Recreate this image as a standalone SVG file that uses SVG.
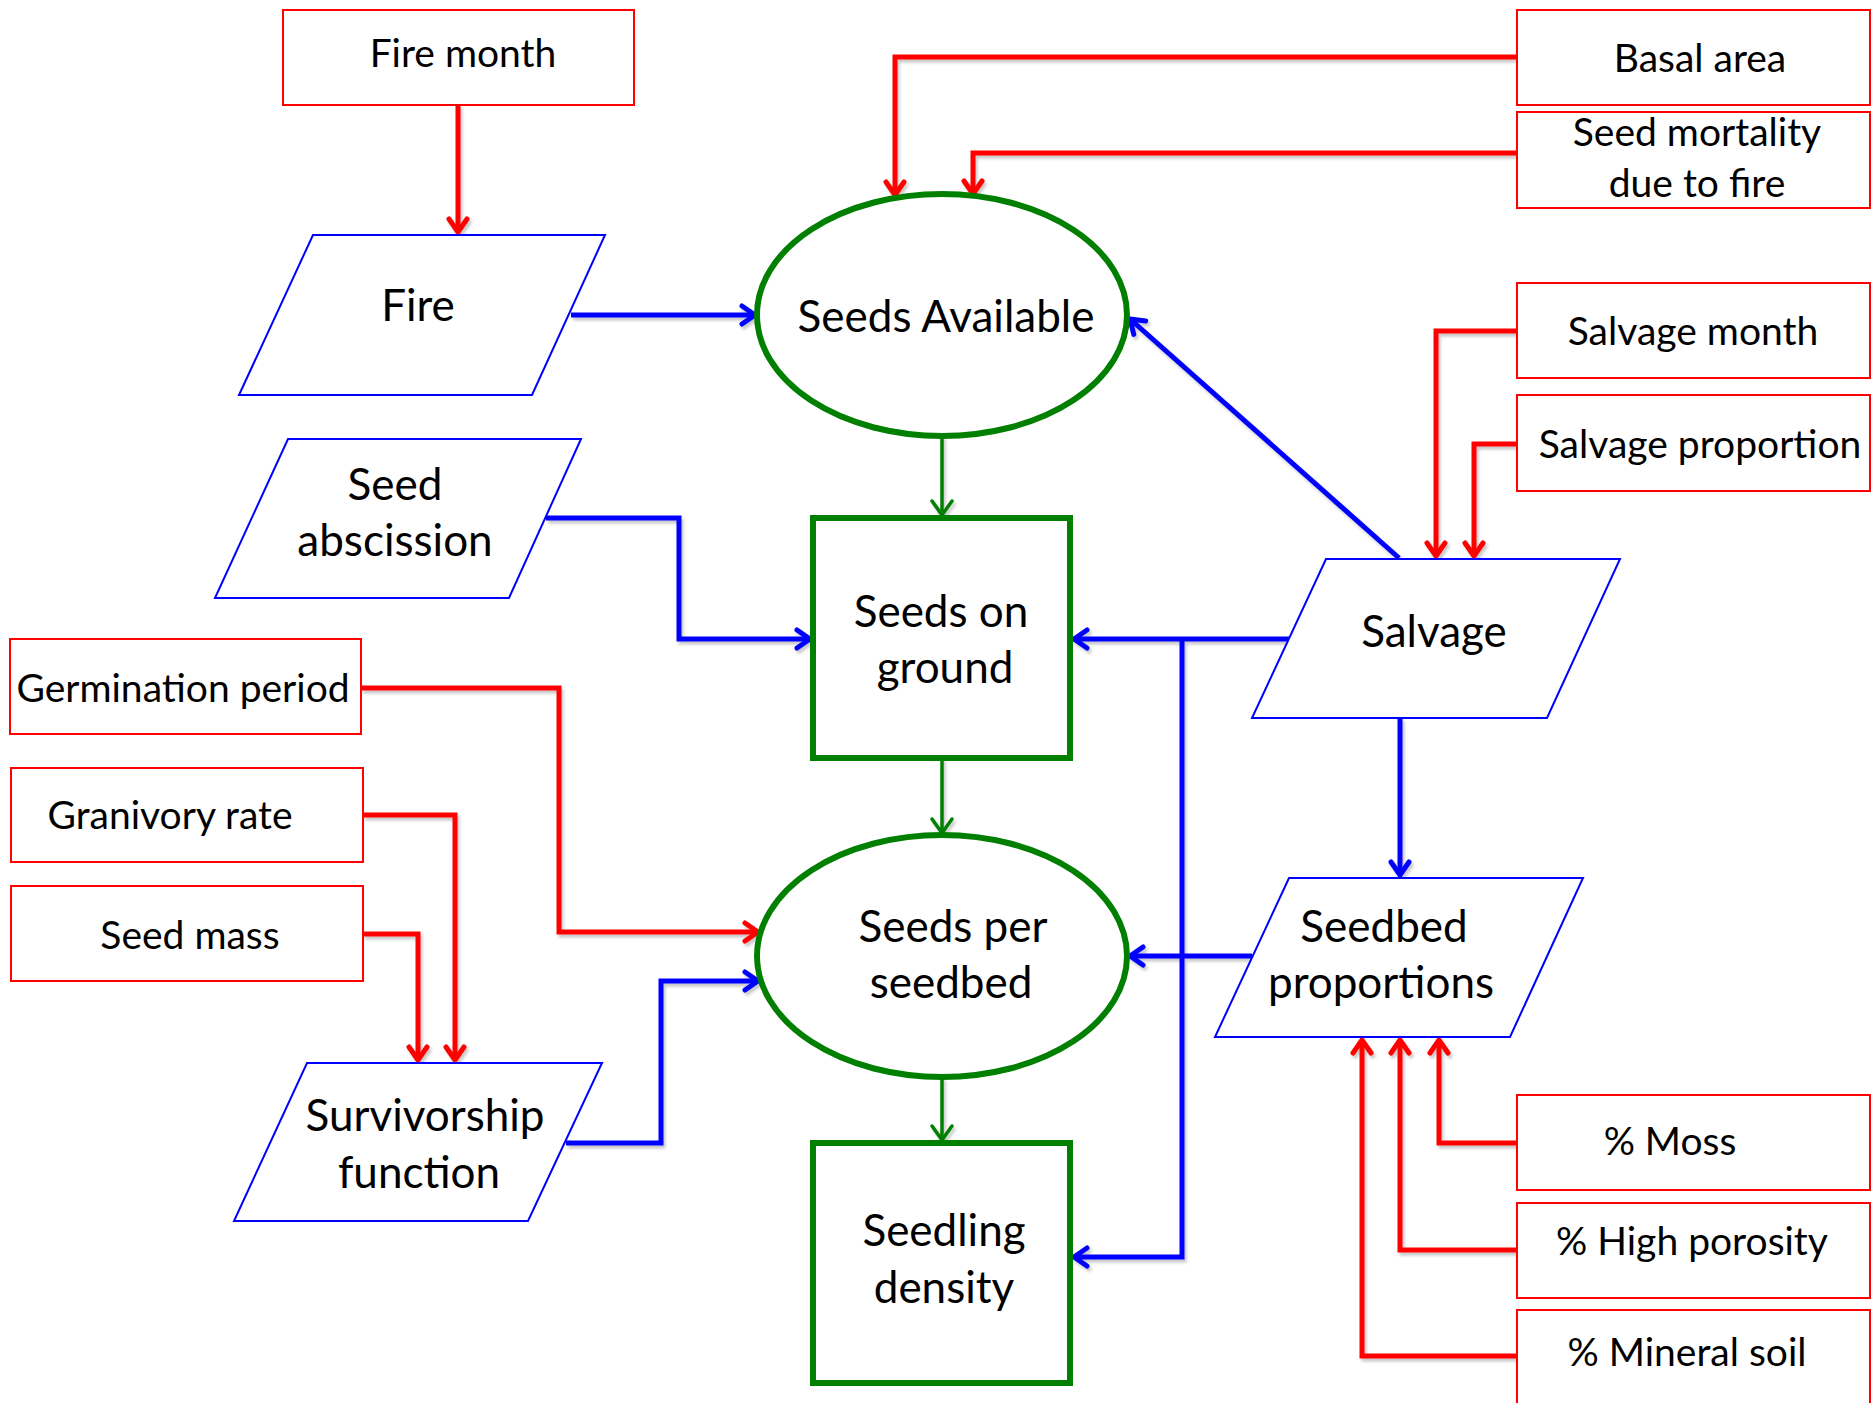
<svg xmlns="http://www.w3.org/2000/svg" width="1872" height="1403" viewBox="0 0 1872 1403">
  <style>
    text { font-family: Lato, "Noto Sans", "Liberation Sans", sans-serif; fill: #000; text-anchor: middle; }
    .t-main { font-size: 44px; }
    .t-par { font-size: 39px; }
    .param { fill: #fff; stroke: #ff0000; stroke-width: 2; }
    .input { fill: #fff; stroke: #0000ff; stroke-width: 2; }
    .state { fill: #fff; stroke: #007f00; stroke-width: 6; }
    .c-red { fill: none; stroke: #ff0000; stroke-width: 5; marker-end: url(#ah-red); }
    .c-blue { fill: none; stroke: #0000ff; stroke-width: 5; marker-end: url(#ah-blue); }
    .c-green { fill: none; stroke: #007f00; stroke-width: 3.5; marker-end: url(#ah-green); }
  </style>
  <defs>
    <filter id="shadow" x="-10%" y="-10%" width="120%" height="120%">
      <feDropShadow dx="2" dy="3" stdDeviation="1.5" flood-color="#000" flood-opacity="0.22"/>
    </filter>
    <marker id="ah-red" viewBox="-18 -14 22 28" refX="0" refY="0" markerWidth="22" markerHeight="28" markerUnits="userSpaceOnUse" orient="auto">
      <path d="M-13,-9 L0,0 L-13,9" fill="none" stroke="#ff0000" stroke-width="5" stroke-linecap="round" stroke-linejoin="round"/>
    </marker>
    <marker id="ah-blue" viewBox="-18 -14 22 28" refX="0" refY="0" markerWidth="22" markerHeight="28" markerUnits="userSpaceOnUse" orient="auto">
      <path d="M-13,-9 L0,0 L-13,9" fill="none" stroke="#0000ff" stroke-width="5" stroke-linecap="round" stroke-linejoin="round"/>
    </marker>
    <marker id="ah-green" viewBox="-18 -14 22 28" refX="0" refY="0" markerWidth="22" markerHeight="28" markerUnits="userSpaceOnUse" orient="auto">
      <path d="M-14,-10 L0,0 L-14,10" fill="none" stroke="#007f00" stroke-width="3.5" stroke-linecap="round" stroke-linejoin="round"/>
    </marker>
  </defs>

  <rect width="1872" height="1403" fill="#fff"/>

  <!-- connectors -->
  <g id="connectors" filter="url(#shadow)">
    <!-- parameters (red) -->
    <path class="c-red" d="M458,105 V232"/>
    <path class="c-red" d="M1517,57 H895 V195"/>
    <path class="c-red" d="M1517,153 H973 V194"/>
    <path class="c-red" d="M1517,331 H1436 V556"/>
    <path class="c-red" d="M1517,444 H1474 V556"/>
    <path class="c-red" d="M361,688 H559 V932 H758"/>
    <path class="c-red" d="M363,815 H455 V1060"/>
    <path class="c-red" d="M363,934 H418 V1060"/>
    <path class="c-red" d="M1517,1143 H1439 V1040"/>
    <path class="c-red" d="M1517,1250 H1400 V1040"/>
    <path class="c-red" d="M1517,1356 H1362 V1040"/>
    <!-- inputs (blue) -->
    <path class="c-blue" d="M571,315 H755"/>
    <path class="c-blue" d="M546,518 H679 V639 H810"/>
    <path class="c-blue" d="M1399,558 L1130,319"/>
    <path class="c-blue" d="M1289,639 H1074"/>
    <path class="c-blue" d="M1182,639 V1257 H1074"/>
    <path class="c-blue" d="M1400,718 V875"/>
    <path class="c-blue" d="M1252,956 H1130"/>
    <path class="c-blue" d="M566,1143 H661 V981 H758"/>
    <!-- state flow (green) -->
    <path class="c-green" d="M942,436 V515"/>
    <path class="c-green" d="M942,758 V833"/>
    <path class="c-green" d="M942,1077 V1140"/>
  </g>

  <!-- parameters -->
  <g id="fire-month">
    <rect class="param" x="283" y="10" width="351" height="95"/>
    <text class="t-par" x="463" y="67">Fire month</text>
  </g>
  <g id="basal-area">
    <rect class="param" x="1517" y="10" width="353" height="95"/>
    <text class="t-par" x="1700" y="72">Basal area</text>
  </g>
  <g id="seed-mortality">
    <rect class="param" x="1517" y="112" width="353" height="96"/>
    <text class="t-par" x="1697" y="146">Seed mortality</text>
    <text class="t-par" x="1697" y="197">due to fire</text>
  </g>
  <g id="salvage-month">
    <rect class="param" x="1517" y="283" width="353" height="95"/>
    <text class="t-par" x="1693" y="345">Salvage month</text>
  </g>
  <g id="salvage-proportion">
    <rect class="param" x="1517" y="395" width="353" height="96"/>
    <text class="t-par" x="1700" y="458">Salvage proportion</text>
  </g>
  <g id="germination-period">
    <rect class="param" x="10" y="639" width="351" height="95"/>
    <text class="t-par" x="183" y="702">Germination period</text>
  </g>
  <g id="granivory-rate">
    <rect class="param" x="11" y="768" width="352" height="94"/>
    <text class="t-par" x="170" y="829">Granivory rate</text>
  </g>
  <g id="seed-mass">
    <rect class="param" x="11" y="886" width="352" height="95"/>
    <text class="t-par" x="190" y="949">Seed mass</text>
  </g>
  <g id="pct-moss">
    <rect class="param" x="1517" y="1095" width="353" height="95"/>
    <text class="t-par" x="1670" y="1155">% Moss</text>
  </g>
  <g id="pct-high-porosity">
    <rect class="param" x="1517" y="1203" width="353" height="95"/>
    <text class="t-par" x="1692" y="1255">% High porosity</text>
  </g>
  <g id="pct-mineral-soil">
    <rect class="param" x="1517" y="1310" width="353" height="100"/>
    <text class="t-par" x="1687" y="1366">% Mineral soil</text>
  </g>

  <!-- inputs -->
  <g id="fire">
    <polygon class="input" points="313,235 605,235 532,395 239,395"/>
    <text class="t-main" x="418" y="321">Fire</text>
  </g>
  <g id="seed-abscission">
    <polygon class="input" points="288,439 581,439 509,598 215,598"/>
    <text class="t-main" x="395" y="500">Seed</text>
    <text class="t-main" x="395" y="556">abscission</text>
  </g>
  <g id="salvage">
    <polygon class="input" points="1326,559 1620,559 1547,718 1252,718"/>
    <text class="t-main" x="1434" y="647">Salvage</text>
  </g>
  <g id="seedbed-proportions">
    <polygon class="input" points="1289,878 1583,878 1510,1037 1215,1037"/>
    <text class="t-main" x="1384" y="942">Seedbed</text>
    <text class="t-main" x="1381" y="998">proportions</text>
  </g>
  <g id="survivorship-function">
    <polygon class="input" points="307,1063 602,1063 528,1221 234,1221"/>
    <text class="t-main" x="425" y="1131">Survivorship</text>
    <text class="t-main" x="419" y="1188">function</text>
  </g>

  <!-- states -->
  <g id="seeds-available">
    <ellipse class="state" cx="942" cy="315" rx="185" ry="121"/>
    <text class="t-main" x="946" y="332">Seeds Available</text>
  </g>
  <g id="seeds-on-ground">
    <rect class="state" x="813" y="518" width="257" height="240"/>
    <text class="t-main" x="941" y="627">Seeds on</text>
    <text class="t-main" x="945" y="683">ground</text>
  </g>
  <g id="seeds-per-seedbed">
    <ellipse class="state" cx="942" cy="956" rx="185" ry="121"/>
    <text class="t-main" x="953" y="942">Seeds per</text>
    <text class="t-main" x="951" y="998">seedbed</text>
  </g>
  <g id="seedling-density">
    <rect class="state" x="813" y="1143" width="257" height="240"/>
    <text class="t-main" x="944" y="1246">Seedling</text>
    <text class="t-main" x="944" y="1303">density</text>
  </g>
</svg>
